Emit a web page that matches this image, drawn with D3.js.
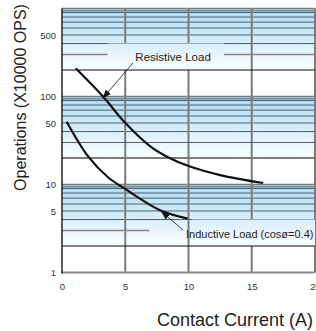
<!DOCTYPE html>
<html>
<head>
<meta charset="utf-8">
<script src="https://cdn.jsdelivr.net/npm/d3@7"></script>
<style>
  body { margin: 0; background: #fff; }
  svg { display: block; font-family: Arial, "Liberation Sans", sans-serif; }
</style>
</head>
<body>
<div id="chart-area"></div>
<script>
// values
const xTicks = [0, 5, 10, 15, 20];
const yTicks = [1, 5, 10, 50, 100, 500];
const decades = [1000, 100, 10];
const resistiveCurrent = [1.08, 3.24, 4.9, 7, 8.5, 10, 12.5, 15.9];
const resistiveOps = [209, 100, 52, 27, 20, 16.2, 12.8, 10.4];
const inductiveCurrent = [0.37, 2.08, 3.66, 4.9, 7.75, 9.94];
const inductiveOps = [51.7, 20.7, 12, 9.1, 5.1, 4.1];

const drawChart = () => {
  const chartSize = { width: 316, height: 331 };
  const margin = { left: 62, right: 1, top: 8.5, bottom: 58.5 };

  const svg = d3.select('#chart-area').append('svg')
    .attr('width', chartSize.width)
    .attr('height', chartSize.height);

  const x = d3.scaleLinear().domain([0, 20])
    .range([margin.left, chartSize.width - margin.right]);
  const y = d3.scaleLog().domain([1, 1000])
    .range([chartSize.height - margin.bottom, margin.top]);

  const defs = svg.append('defs');
  const grid = svg.append('g');

  // blue bands, one per decade
  decades.forEach((d, i) => {
    const grad = defs.append('linearGradient')
      .attr('id', `band${i}`)
      .attr('gradientUnits', 'userSpaceOnUse')
      .attr('x1', 0).attr('x2', 0)
      .attr('y1', y(d)).attr('y2', y(d * 0.2));
    grad.append('stop').attr('offset', 0).attr('stop-color', '#acdbf3');
    grad.append('stop').attr('offset', 0.5).attr('stop-color', '#d4edfa');
    grad.append('stop').attr('offset', 1).attr('stop-color', '#fbfeff');

    grid.append('rect')
      .attr('x', x(0)).attr('width', x(20) - x(0))
      .attr('y', y(d)).attr('height', y(d * 0.2) - y(d))
      .attr('fill', `url(#band${i})`);

    const minors = [0.94, 0.9, 0.8, 0.7, 0.6, 0.5, 0.4];
    grid.selectAll(null).data(minors).enter().append('line')
      .attr('x1', x(0)).attr('x2', x(20))
      .attr('y1', m => y(d * m)).attr('y2', m => y(d * m))
      .attr('stroke', '#47525c').attr('stroke-width', 0.9);

    grid.append('line')
      .attr('x1', x(0)).attr('x2', x(20))
      .attr('y1', y(d)).attr('y2', y(d))
      .attr('stroke', '#737b84').attr('stroke-width', 1.5);
  });

  // vertical grid
  grid.selectAll(null).data([5, 10, 15, 20]).enter().append('line')
    .attr('x1', d => x(d)).attr('x2', d => x(d))
    .attr('y1', y(1000)).attr('y2', y(1))
    .attr('stroke', '#7b7b7b').attr('stroke-width', 2);

  // 3x lines
  grid.append('line')
    .attr('x1', x(0)).attr('x2', x(20))
    .attr('y1', y(300)).attr('y2', y(300))
    .attr('stroke', '#858585').attr('stroke-width', 1.5);
  grid.append('line')
    .attr('x1', x(0)).attr('x2', x(20))
    .attr('y1', y(30)).attr('y2', y(30))
    .attr('stroke', '#47525c').attr('stroke-width', 0.9);
  grid.append('line')
    .attr('x1', x(0)).attr('x2', x(6.9))
    .attr('y1', y(3)).attr('y2', y(3))
    .attr('stroke', '#858585').attr('stroke-width', 1.5);

  // label panels hide grid behind labels
  grid.append('rect')
    .attr('x', x(3.6)).attr('width', x(12.8) - x(3.6))
    .attr('y', y(400)).attr('height', y(200) - y(400))
    .attr('fill', 'url(#band0)');
  grid.append('rect')
    .attr('x', x(10.3)).attr('width', x(20) - x(10.3))
    .attr('y', y(4)).attr('height', y(2) - y(4))
    .attr('fill', 'url(#band2)');

  // 2x lines
  grid.selectAll(null).data([200, 2]).enter().append('line')
    .attr('x1', x(0)).attr('x2', x(20))
    .attr('y1', d => y(d)).attr('y2', d => y(d))
    .attr('stroke', '#111').attr('stroke-width', 1.2);
  grid.append('line')
    .attr('x1', x(0)).attr('x2', x(20))
    .attr('y1', y(20)).attr('y2', y(20))
    .attr('stroke', '#7b7b7b').attr('stroke-width', 2);

  // axes
  const yAxis = d3.axisLeft(y).tickValues(yTicks).tickSize(0).tickPadding(6)
    .tickFormat(d3.format('d'));
  const xAxis = d3.axisBottom(x).tickValues(xTicks).tickSize(0).tickPadding(11);

  const gy = svg.append('g').attr('transform', `translate(${x(0)},0)`).call(yAxis);
  const gx = svg.append('g').attr('transform', `translate(0,${y(1)})`).call(xAxis);
  [gx, gy].forEach(g => {
    g.select('.domain').remove();
    g.selectAll('text').attr('font-size', 9.5).attr('fill', '#333')
      .attr('font-family', 'Arial, "Liberation Sans", sans-serif');
  });

  svg.append('line')
    .attr('x1', x(0)).attr('x2', x(20))
    .attr('y1', y(1)).attr('y2', y(1))
    .attr('stroke', '#8a8a8a').attr('stroke-width', 2);
  svg.append('line')
    .attr('x1', x(0)).attr('x2', x(0))
    .attr('y1', y(1000)).attr('y2', y(1) + 1)
    .attr('stroke', '#222').attr('stroke-width', 1.5);

  // curves
  const line = d3.line()
    .x(d => x(d[0])).y(d => y(d[1]))
    .curve(d3.curveCatmullRom.alpha(0.5));
  [[resistiveCurrent, resistiveOps], [inductiveCurrent, inductiveOps]].forEach(([cx, cy]) => {
    svg.append('path')
      .attr('d', line(d3.zip(cx, cy)))
      .attr('fill', 'none')
      .attr('stroke', '#111')
      .attr('stroke-width', 2.2);
  });

  // annotations
  defs.append('marker')
    .attr('id', 'arrow')
    .attr('viewBox', '0 0 10 10')
    .attr('refX', 9).attr('refY', 5)
    .attr('markerWidth', 9).attr('markerHeight', 9)
    .attr('markerUnits', 'userSpaceOnUse')
    .attr('orient', 'auto')
    .append('path').attr('d', 'M0,1.5L10,5L0,8.5Z').attr('fill', '#111');

  const notes = [
    { text: 'Resistive Load', size: 11.5, tx: 5.8, ty: 253, from: [5.6, 240], to: [3.24, 96] },
    { text: 'Inductive Load (cosø=0.4)', size: 11, tx: 9.8, ty: 2.47, from: [9.57, 3.04], to: [7.88, 4.9] }
  ];
  notes.forEach(n => {
    svg.append('line')
      .attr('x1', x(n.from[0])).attr('y1', y(n.from[1]))
      .attr('x2', x(n.to[0])).attr('y2', y(n.to[1]))
      .attr('stroke', '#111').attr('stroke-width', 0.8)
      .attr('marker-end', 'url(#arrow)');
    svg.append('text')
      .attr('x', x(n.tx)).attr('y', y(n.ty))
      .attr('font-size', n.size).attr('fill', '#222')
      .text(n.text);
  });

  svg.append('text')
    .attr('transform', 'translate(25.5,97.5) rotate(-90)')
    .attr('text-anchor', 'middle')
    .attr('font-size', 16).attr('fill', '#222')
    .text('Operations (X10000 OPS)');

  svg.append('text')
    .attr('x', 313).attr('y', 325.5)
    .attr('text-anchor', 'end')
    .attr('font-size', 18).attr('fill', '#222')
    .text('Contact Current (A)');
};

window.onload = drawChart;
</script>
</body>
</html>
